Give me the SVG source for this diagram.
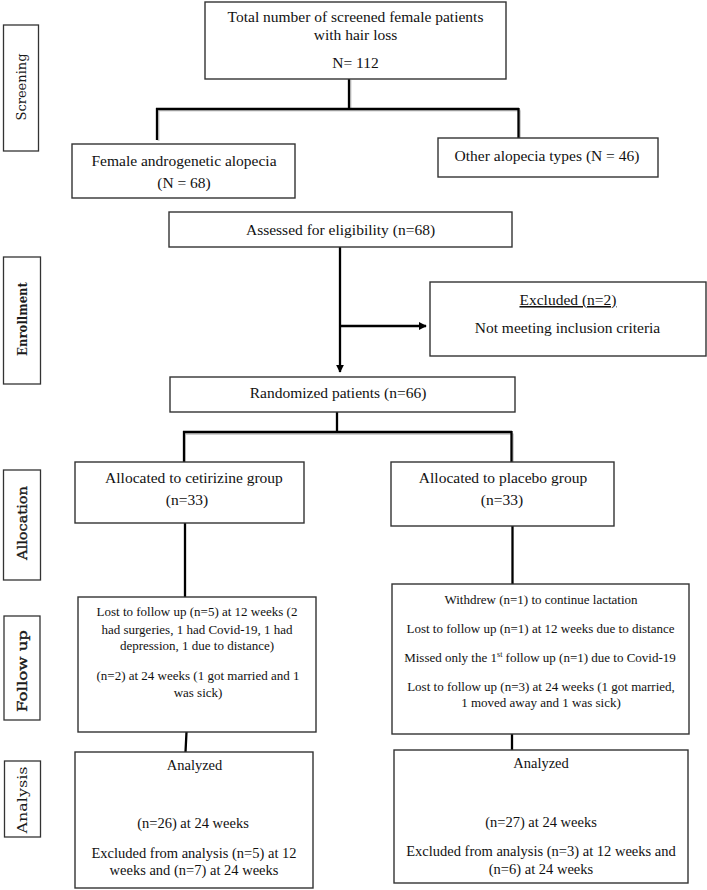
<svg xmlns="http://www.w3.org/2000/svg" width="707" height="890" viewBox="0 0 707 890">
<style>
  .box{fill:#fff;stroke:#333;stroke-width:1.4}
  .lbl{fill:#fff;stroke:#333;stroke-width:1.3}
  .t{font-family:"Liberation Serif","Times New Roman",serif;fill:#111;text-anchor:middle}
  .t155{font-size:15.5px}
  .t13{font-size:13px}
  .t145{font-size:14.5px}
  .side{font-family:"DejaVu Serif",serif;font-size:13px;fill:#1a1a1a;text-anchor:middle}
  .b{font-weight:bold}
  .m{stroke:#1a1a1a;stroke-width:0.35}
  .ln{stroke:#000;stroke-width:2.3;fill:none}
  .sh{stroke:#bbb;stroke-width:2;fill:none;opacity:0.7}
</style>
<defs>
  <marker id="ah" viewBox="0 0 10 10" refX="9" refY="5" markerWidth="3.4" markerHeight="3.4" orient="auto" markerUnits="strokeWidth">
    <path d="M0,0 L10,5 L0,10 z" fill="#000"/>
  </marker>
</defs>

<rect width="707" height="890" fill="#fff"/>

<!-- side labels -->
<g id="lbl-screening">
  <rect class="lbl" x="3.5" y="25" width="35" height="126"/>
  <text class="side" transform="translate(25.5,87) rotate(-90)" textLength="67" lengthAdjust="spacingAndGlyphs">Screening</text>
</g>
<g id="lbl-enrollment">
  <rect class="lbl" x="3.5" y="257" width="37" height="127"/>
  <text class="side b" transform="translate(27,319) rotate(-90)" textLength="74" lengthAdjust="spacingAndGlyphs">Enrollment</text>
</g>
<g id="lbl-allocation">
  <rect class="lbl" x="3.5" y="470" width="37" height="110"/>
  <text class="side m" transform="translate(27,523) rotate(-90)" textLength="74" lengthAdjust="spacingAndGlyphs">Allocation</text>
</g>
<g id="lbl-followup">
  <rect class="lbl" x="4" y="616" width="36" height="104"/>
  <text class="side m" transform="translate(27,671) rotate(-90)" textLength="82" lengthAdjust="spacingAndGlyphs">Follow up</text>
</g>
<g id="lbl-analysis">
  <rect class="lbl" x="4.5" y="761" width="36" height="76"/>
  <text class="side" transform="translate(27,800) rotate(-90)" textLength="67" lengthAdjust="spacingAndGlyphs">Analysis</text>
</g>

<!-- connectors -->
<g id="connectors">
  <g class="sh">
    <path d="M350.5,80 V110.5 M158.5,110.5 H520.5 M158.5,110.5 V141 M520,110.5 V139"/>
    <path d="M185,434 H513.5 M185,434 V463 M513,434 V463"/>
  </g>
  <path class="ln" d="M349,79 V109 M156,109 H519 M157,108 V140 M518.5,108 V138"/>
  <path class="ln" d="M340,247 V372" marker-end="url(#ah)"/>
  <path class="ln" d="M340,326 H426" marker-end="url(#ah)"/>
  <path class="ln" d="M337,412 V432 M183,432 H512 M184,431 V462 M511.5,431 V462"/>
  <path class="ln" d="M185,523 V597 M512.5,526 V584"/>
  <path class="ln" d="M186.5,732 L185.5,752 M512,734 V750"/>
</g>

<!-- nodes -->
<g id="n-total">
  <rect class="box" x="205" y="2" width="301" height="77"/>
  <text class="t t155" x="355.5" y="22">Total number of screened female patients</text>
  <text class="t t155" x="355.5" y="40">with hair loss</text>
  <text class="t t155" x="355.5" y="68">N= 112</text>
</g>
<g id="n-faga">
  <rect class="box" x="72" y="144" width="223" height="54"/>
  <text class="t t155" x="184" y="166">Female androgenetic alopecia</text>
  <text class="t t155" x="184" y="188">(N = 68)</text>
</g>
<g id="n-other">
  <rect class="box" x="438" y="138" width="220" height="39"/>
  <text class="t t155" x="547" y="161">Other alopecia types (N = 46)</text>
</g>
<g id="n-assessed">
  <rect class="box" x="169" y="212" width="343" height="35"/>
  <text class="t t155" x="340.5" y="235">Assessed for eligibility (n=68)</text>
</g>
<g id="n-excluded">
  <rect class="box" x="430" y="282" width="276" height="74"/>
  <text class="t t155" x="568" y="305" text-decoration="underline">Excluded (n=2)</text>
  <text class="t t155" x="567.5" y="333">Not meeting inclusion criteria</text>
</g>
<g id="n-randomized">
  <rect class="box" x="170" y="377" width="345" height="35"/>
  <text class="t t155" x="338" y="398">Randomized patients (n=66)</text>
</g>
<g id="n-cetirizine">
  <rect class="box" x="75" y="462" width="229" height="61"/>
  <text class="t t155" x="194" y="483">Allocated to cetirizine group</text>
  <text class="t t155" x="187" y="505">(n=33)</text>
</g>
<g id="n-placebo">
  <rect class="box" x="391" y="462" width="223" height="64"/>
  <text class="t t155" x="503" y="483">Allocated to placebo group</text>
  <text class="t t155" x="502" y="505">(n=33)</text>
</g>
<g id="n-fu-left">
  <rect class="box" x="78" y="597" width="238" height="135"/>
  <text class="t t13" x="197" y="616">Lost to follow up (n=5) at 12 weeks (2</text>
  <text class="t t13" x="197" y="634">had surgeries, 1 had Covid-19, 1 had</text>
  <text class="t t13" x="197" y="650">depression, 1 due to distance)</text>
  <text class="t t13" x="198" y="680">(n=2) at 24 weeks (1 got married and 1</text>
  <text class="t t13" x="198" y="697">was sick)</text>
</g>
<g id="n-fu-right">
  <rect class="box" x="392" y="584" width="297" height="150"/>
  <text class="t t13" x="541" y="604">Withdrew (n=1) to continue lactation</text>
  <text class="t t13" x="540.5" y="633">Lost to follow up (n=1) at 12 weeks due to distance</text>
  <text class="t t13" x="540" y="662">Missed only the 1<tspan font-size="8" dy="-5">st</tspan><tspan dy="5"> follow up (n=1) due to Covid-19</tspan></text>
  <text class="t t13" x="541" y="691">Lost to follow up (n=3) at 24 weeks (1 got married,</text>
  <text class="t t13" x="541" y="707">1 moved away and 1 was sick)</text>
</g>
<g id="n-an-left">
  <rect class="box" x="75" y="752" width="238" height="136"/>
  <text class="t t145" x="194.5" y="770">Analyzed</text>
  <text class="t t145" x="193" y="828">(n=26) at 24 weeks</text>
  <text class="t t145" x="194" y="858">Excluded from analysis (n=5) at 12</text>
  <text class="t t145" x="194" y="875">weeks and (n=7) at 24 weeks</text>
</g>
<g id="n-an-right">
  <rect class="box" x="394" y="750" width="294" height="133"/>
  <text class="t t145" x="541" y="768">Analyzed</text>
  <text class="t t145" x="541" y="827">(n=27) at 24 weeks</text>
  <text class="t t145" x="541" y="856">Excluded from analysis (n=3) at 12 weeks and</text>
  <text class="t t145" x="541" y="874">(n=6) at 24 weeks</text>
</g>
</svg>
